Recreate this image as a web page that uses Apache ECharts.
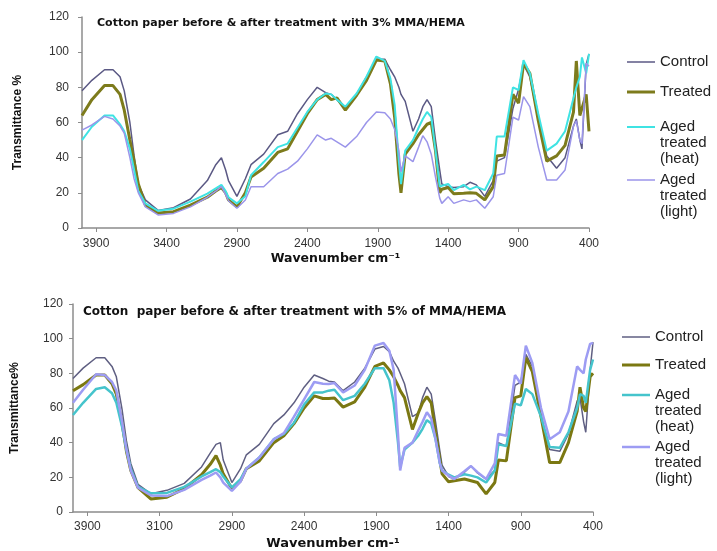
<!DOCTYPE html>
<html><head><meta charset="utf-8">
<script src="https://cdn.jsdelivr.net/npm/echarts@6/dist/echarts.min.js"></script>
<style>html,body{margin:0;padding:0;background:#fff}#c{width:717px;height:551px}</style>
</head><body><div id="c"></div>
<script>
// Wavenumbers (cm-1) sampled along the spectra
const wavenumbers = [4000,3930,3840,3780,3730,3700,3660,3630,3600,3550,
 3460,3350,3230,3110,3050,3010,2980,2960,2900,2840,
 2800,2710,2610,2540,2470,2400,2330,2270,2230,2190,
 2130,2050,1980,1910,1850,1810,1780,1750,1735,1705,
 1650,1610,1580,1550,1520,1490,1460,1445,1400,1360,
 1290,1245,1200,1140,1080,1055,1000,940,900,865,
 820,760,700,630,570,510,490,465,450,420,400];

// Top chart: 3% MMA/HEMA
const top3Control = [78,84,90,90,86,78,60,41,25,16,
 10,11.5,16.5,27,36,40,33,27,18,28,
 36,42,53,55,65,73,80,77,76,73,
 68,76,86,96,96,90,86,80,76,72,
 55,62,69,73,69,50,33,25,23.5,23,
 23.5,26,24.5,18,27,38,40,68,79,93,
 86,62,41,34,40,58,62,50,45,93,99];
const top3Treated = [64,73,81,81,76,67,50,38,25,13,
 8.5,9.3,13,17.5,21,23,20,16,12,20,
 29,34,43,45,55,65,73,76,73,74,
 67,75.5,84,95.5,95,82,63,31,20,42,
 48,53,56,59,60,44,20,22,23,19.5,
 19.7,20,19.7,16,23.5,41,41.5,76,71,93.5,
 88,61,38,41,47,66,95,64,68,76,55];
const top3Heat = [50,57.6,64,64,59,55,45,33,21,14,
 9.8,11,15,19.5,22.5,24.5,21,17.5,14,18,
 30,37.5,46,48,57,66,73,76.5,76,73,
 69,76.5,86,97.5,95,85,70,38,25,44,
 50,57,62,66,63,44,23.5,24,25,21.5,
 24.5,22,23.5,21.5,31,52,52,80,78.5,95.5,
 88,65,44,48,55,74,80,86,97,88,99];
const top3Light = [55.7,58.6,63.5,62,58,54,40,28,20,12,
 7.4,8.3,12,17.5,21,23.5,19,15.5,11.2,15.9,
 23.5,23.5,31,33.5,38,45,53,50,51,49,
 46,52,60,66,65.5,62,56,44,32,41,
 37.7,46,52.5,49,42,29,17,14,17.8,14,
 16,15,16,11.2,17.8,30,31,63,61.4,74.7,
 69,46,27.3,27.3,33,58,61,50,48,93.7,92];

// Bottom chart: 5% MMA/HEMA
const bot5Control = [77,83,89,89,84,78,59,41,28,16,
 10.5,12.5,16.5,26,34,39,40,30,17,25,
 33,39,51,56,63,72,79,77,75.5,75,
 70,75,83,94,95.5,92.5,87,83,80,74,
 55,57,66,72,68,52,35,27,20.5,19,
 23,26.5,22.5,19,24,40,38,73,75,91,
 84,55,36,35,45,64,66,52,46,82,98];
const bot5Treated = [70,73.5,79,79,74,68,51,35,24,14,
 7.5,8.5,13.5,21.5,27.5,32.5,27,22,13.5,18,
 25,29.5,40,44,51,60,67,65.5,65.5,65.8,
 60.5,63.5,72,84,86,82,78,73,70,66,
 47.6,57,63,66.5,63,46,30,22,17.5,18,
 19,18,17,10.5,17,30,29.5,66,67,89,
 81,55,28.5,28.5,40,58,72,60,58,78,80];
const bot5Heat = [56,63,71,72,68.5,63,49,36,25,14.5,
 10.8,11,14.5,20.5,23,24.7,23,20.5,14.2,19,
 25,31.4,42,45,51.5,62,69,69,70,70.5,
 64.5,67,74,83,83,76,63,40,26,36,
 40,44,48,53,51,42,28,24,21.5,20,
 21.8,21,20,17,24,39,38,62.5,61.5,71,
 68,55,37.5,37,46,60,68,67,63,82,88];
const bot5Light = [63,70.5,79.5,79,75,70,52,36,24,14,
 9.5,9.2,12.8,18.5,21,22.8,20,17,12.2,17.5,
 25,31.4,42,45.5,55,65,75,74,73.8,74.4,
 69,73,82,96,97.5,93,82,45,24,37,
 40,47,52,57.5,54,42,28,24,21,19,
 23.5,26.5,23,19,28,45,44,79,74,96,
 86,60,42,46,58,84,82,80,88,97,97.5];

// Tick positions and labels
const tickValues = [3900,3400,2900,2400,1900,1400,900,400];
const topTickLabels = ['3900','3400','2900','2400','1900','1400','900','400'];
const botTickLabels = ['3900','3100','2900','2400','1900','1400','900','400'];

const seriesNames = ['Control','Treated','Aged treated (heat)','Aged treated (light)'];
const legendTexts = ['Control','Treated','\n\nAged\ntreated\n(heat)','\n\nAged\ntreated\n(light)'];

const FONT = '"Liberation Sans", Arial, sans-serif';
const WIDE = '"DejaVu Sans", Verdana, sans-serif';
const zip = arr => wavenumbers.map((w, i) => [w, arr[i]]);

const topColors = ['#5b5984','#7d7b1c','#3fe3e3','#9b95ea'];
const topWidths = [1.5, 3, 2, 1.5];
const botColors = ['#5f5f82','#7b7812','#45c4cc','#9d9cf3'];
const botWidths = [1.5, 3, 2.5, 2.5];

function xAxis(gi, labels, name, nameSize, margin, gap) {
  return {
    type: 'value', gridIndex: gi, inverse: true, min: 400, max: 4000,
    axisLine: {show: true, lineStyle: {color: '#8c8c8c', width: 1.5}},
    axisTick: {show: true, customValues: tickValues, length: 4, lineStyle: {color: '#8c8c8c'}},
    axisLabel: {customValues: tickValues, formatter: v => labels[tickValues.indexOf(v)],
      color: '#333', fontSize: 12, margin: margin, fontFamily: FONT},
    splitLine: {show: false},
    name: name, nameLocation: 'middle', nameGap: gap,
    nameTextStyle: {fontWeight: 'bold', fontSize: nameSize, color: '#111', fontFamily: WIDE}
  };
}
function yAxis(gi, name, gap, margin) {
  return {
    type: 'value', gridIndex: gi, min: 0, max: 120, interval: 20,
    axisLine: {show: true, lineStyle: {color: '#8c8c8c', width: 1.5}},
    axisTick: {show: true, length: 4, lineStyle: {color: '#8c8c8c'}},
    axisLabel: {color: '#333', fontSize: 12, margin: margin, fontFamily: FONT},
    splitLine: {show: false},
    name: name, nameLocation: 'middle', nameGap: gap, nameRotate: 90,
    nameTextStyle: {fontWeight: 'bold', fontSize: 12, color: '#111', fontFamily: FONT}
  };
}
function legendItem(idx, left, top, color, width, iw) {
  return {
    orient: 'vertical', left: left, top: top, padding: 0, itemGap: 0,
    itemWidth: iw, itemHeight: width, selectedMode: false, icon: 'rect',
    data: [{name: seriesNames[idx], icon: 'rect', itemStyle: {color: color, borderWidth: 0}}],
    formatter: () => legendTexts[idx],
    textStyle: {fontSize: 15, lineHeight: 16, color: '#222', fontFamily: FONT}
  };
}

const topData = [top3Control, top3Treated, top3Heat, top3Light];
const botData = [bot5Control, bot5Treated, bot5Heat, bot5Light];
const series = [];
topData.forEach((d, i) => series.push({
  name: seriesNames[i], type: 'line', xAxisIndex: 0, yAxisIndex: 0, data: zip(d),
  symbol: 'none', color: topColors[i], lineStyle: {color: topColors[i], width: topWidths[i]}
}));
botData.forEach((d, i) => series.push({
  name: seriesNames[i], type: 'line', xAxisIndex: 1, yAxisIndex: 1, data: zip(d),
  symbol: 'none', color: botColors[i], lineStyle: {color: botColors[i], width: botWidths[i]}
}));

const topLegendTops = [54, 84, 87, 140];
const botLegendTops = [329, 357, 355, 407];

const option = {
  animation: false,
  backgroundColor: '#fff',
  title: [
    {text: 'Cotton paper before & after treatment with 3% MMA/HEMA', left: 97, top: 18, padding: 0,
     textStyle: {fontSize: 11, fontWeight: 'bold', color: '#111', fontFamily: WIDE}},
    {text: 'Cotton  paper before & after treatment with 5% of MMA/HEMA', left: 83, top: 306, padding: 0,
     textStyle: {fontSize: 12, fontWeight: 'bold', color: '#111', fontFamily: WIDE}}
  ],
  legend: [0,1,2,3].map(i => legendItem(i, 627, topLegendTops[i], topColors[i], topWidths[i], 28))
    .concat([0,1,2,3].map(i => legendItem(i, 622, botLegendTops[i], botColors[i], botWidths[i], 28))),
  grid: [
    {left: 82, top: 17, width: 507, height: 211},
    {left: 73, top: 304, width: 520, height: 209}
  ],
  xAxis: [
    xAxis(0, topTickLabels, 'Wavenumber cm\u207b\u00b9', 12.5, 10, 24),
    xAxis(1, botTickLabels, 'Wavenumber cm-\u00b9', 13, 9, 25)
  ],
  yAxis: [
    yAxis(0, 'Transmittance %', 58, 13),
    yAxis(1, 'Transmittance%', 52, 10)
  ],
  series: series
};
const chart = echarts.init(document.getElementById('c'), null, {renderer: 'canvas'});
chart.setOption(option);
</script></body></html>
